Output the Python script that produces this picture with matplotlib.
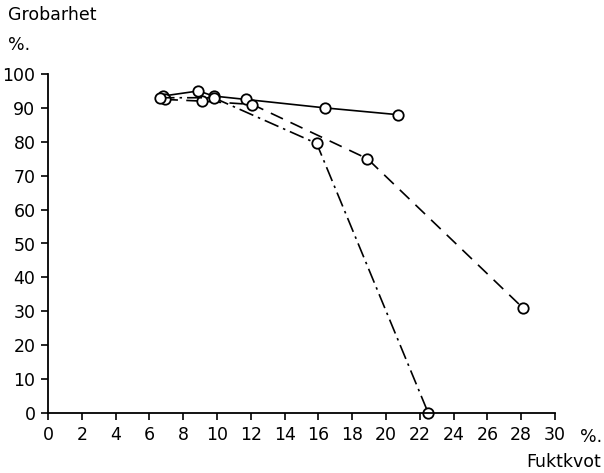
import matplotlib
matplotlib.use("Agg")
import matplotlib.pyplot as plt

# Data (Fuktkvot %, Grobarhet %)
solid_x = [6.8, 8.9, 9.8, 11.7, 16.4, 20.7]
solid_y = [93.5, 95.0, 93.5, 92.5, 90.0, 88.0]
dashed_x = [6.9, 9.1, 12.1, 18.9, 28.1]
dashed_y = [92.5, 92.0, 91.0, 75.0, 31.0]
dashdot_x = [6.6, 9.8, 15.9, 22.5]
dashdot_y = [93.0, 93.0, 79.5, 0.0]

xticks = list(range(0, 31, 2))
yticks = list(range(0, 101, 10))

fig = plt.figure(figsize=(6.04, 4.73), dpi=100)
ax = fig.add_axes([48/604, 1-413/473, (555-48)/604, (413-74)/473])

mk = dict(marker='o', markersize=7.5, markerfacecolor='white', markeredgecolor='black',
          markeredgewidth=1.3, color='black', linewidth=1.2, clip_on=False)
ax.plot(solid_x, solid_y, linestyle='-', **mk)
ax.plot(dashed_x, dashed_y, linestyle=(0, (8, 5)), **mk)
ax.plot(dashdot_x, dashdot_y, linestyle=(0, (9, 3, 1.5, 3)), **mk)

ax.set_xlim(0, 30)
ax.set_ylim(0, 100)
ax.set_xticks(xticks)
ax.set_yticks(yticks)
for s in ['top', 'right']:
    ax.spines[s].set_visible(False)
for s in ['left', 'bottom']:
    ax.spines[s].set_linewidth(1.3)
fs = 12.5
ax.tick_params(direction='out', length=5, width=1.2, labelsize=fs, pad=4)

fig.text(8/604, 1-15/473, 'Grobarhet', fontsize=fs, va='center', ha='left')
fig.text(8/604, 1-45/473, '%.', fontsize=fs, va='center', ha='left')
fig.text(580/604, 1-437/473, '%.', fontsize=fs, va='center', ha='left')
fig.text(601/604, 1-462/473, 'Fuktkvot', fontsize=fs, va='center', ha='right')

fig.savefig('out.png', dpi=100)
